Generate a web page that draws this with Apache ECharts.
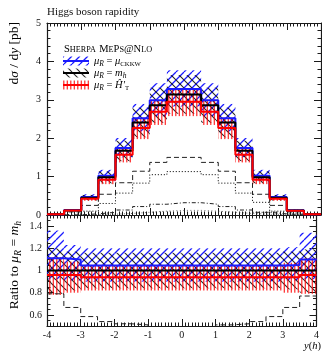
<!DOCTYPE html>
<html>
<head>
<meta charset="utf-8">
<script src="https://cdn.jsdelivr.net/npm/echarts@6/dist/echarts.min.js"></script>
<style>
  html, body { margin: 0; padding: 0; background: #fff; }
  #chart { width: 322px; height: 351px; }
</style>
</head>
<body>
<div id="chart"></div>
<script>
// Bin edges of the Higgs rapidity histogram
const binEdges = [-4, -3.5, -3, -2.5, -2, -1.5, -1, -0.5, 0, 0.5, 1, 1.5, 2, 2.5, 3, 3.5, 4];

// Central prediction for mu_R = m_h, dsigma/dy [pb]
const xsMh = [0.02, 0.12, 0.45, 0.98, 1.67, 2.41, 2.86, 3.14, 3.14, 2.86, 2.41, 1.67, 0.98, 0.45, 0.12, 0.02];

// Central predictions of the other scale choices relative to mu_R = m_h
const ratioCkkw = [1.11, 1.10, 1.045, 1.045, 1.045, 1.045, 1.045, 1.045, 1.045, 1.045, 1.045, 1.045, 1.045, 1.045, 1.05, 1.10];
const ratioHt   = [0.96, 0.96, 0.94, 0.94, 0.94, 0.94, 0.94, 0.94, 0.94, 0.94, 0.94, 0.94, 0.94, 0.94, 0.94, 0.96];

// Scale-variation envelopes relative to mu_R = m_h
const bandCkkwLo = [0.92, 0.91, 0.90, 0.90, 0.90, 0.90, 0.90, 0.90, 0.90, 0.90, 0.90, 0.90, 0.90, 0.90, 0.91, 0.92];
const bandCkkwHi = [1.36, 1.23, 1.20, 1.20, 1.20, 1.20, 1.20, 1.20, 1.20, 1.20, 1.20, 1.20, 1.20, 1.20, 1.21, 1.34];
const bandMhLo   = [0.79, 0.82, 0.84, 0.84, 0.84, 0.84, 0.84, 0.84, 0.84, 0.84, 0.84, 0.84, 0.84, 0.84, 0.83, 0.80];
const bandMhHi   = [1.20, 1.17, 1.16, 1.16, 1.16, 1.16, 1.16, 1.16, 1.16, 1.16, 1.16, 1.16, 1.16, 1.16, 1.17, 1.19];
const bandHtLo   = [0.78, 0.80, 0.82, 0.82, 0.82, 0.82, 0.82, 0.82, 0.82, 0.82, 0.82, 0.82, 0.82, 0.82, 0.80, 0.79];
const bandHtHi   = [1.12, 1.08, 1.05, 1.05, 1.05, 1.05, 1.05, 1.05, 1.05, 1.05, 1.05, 1.05, 1.05, 1.05, 1.07, 1.11];

// Contributions of the individual jet multiplicities [pb]
const xs0j = [0.015, 0.08, 0.25, 0.54, 0.84, 1.14, 1.37, 1.50, 1.50, 1.37, 1.14, 0.84, 0.54, 0.25, 0.08, 0.015];
const xs1j = [0.003, 0.03, 0.10, 0.30, 0.57, 0.83, 1.05, 1.13, 1.13, 1.05, 0.83, 0.57, 0.33, 0.10, 0.03, 0.003];
const xs2j = [0, 0.005, 0.03, 0.07, 0.13, 0.22, 0.28, 0.32, 0.32, 0.28, 0.22, 0.13, 0.07, 0.03, 0.005, 0];
const xs3j = [0, 0, 0.01, 0.02, 0.04, 0.07, 0.10, 0.12, 0.12, 0.10, 0.07, 0.04, 0.02, 0.01, 0, 0];
// Zero-jet contribution relative to the mu_R = m_h prediction
const ratio0j = [0.79, 0.667, 0.585, 0.54, 0.52, 0.51, 0.49, 0.48, 0.48, 0.49, 0.51, 0.52, 0.54, 0.585, 0.667, 0.77];

// Tick labels
const xTickLabels = [-4, -3, -2, -1, 0, 1, 2, 3, 4];
const yTickLabelsMain = [0, 1, 2, 3, 4, 5];
const yTickLabelsRatio = [0.6, 0.8, 1, 1.2, 1.4];

const SERIF = '"Liberation Serif", "DejaVu Serif", serif';
const BLUE = '#1a1aff';
const RED = '#ff0000';
const BLACK = '#000000';

// ---- hatch patterns -------------------------------------------------------
function hatch(color, kind, lw) {
  const c = document.createElement('canvas');
  const g = c.getContext('2d');
  if (kind === 'vert') {
    c.width = 7; c.height = 4;
    g.fillStyle = color;
    g.fillRect(0.2, 0, 1.2, 4);
    g.fillRect(3.7, 0, 1.2, 4);
    return { image: c, repeat: 'repeat' };
  }
  const s = 8;
  c.width = s; c.height = s;
  g.strokeStyle = color;
  g.lineWidth = lw;
  g.beginPath();
  for (let k = -1; k <= 1; k++) {
    if (kind === 'fwd') { g.moveTo(k * s, s); g.lineTo(k * s + s, 0); }
    else { g.moveTo(k * s, 0); g.lineTo(k * s + s, s); }
  }
  g.stroke();
  return { image: c, repeat: 'repeat' };
}
const patBlue = hatch(BLUE, 'fwd', 1.3);
const patBlack = hatch('rgba(0,0,0,0.85)', 'back', 1.1);
const patRed = hatch('rgba(255,0,0,0.85)', 'vert');

// ---- helpers building series data from the arrays ----------------------------
const nBins = binEdges.length - 1;
function stepData(vals) {
  const d = vals.map((v, i) => [binEdges[i], v]);
  d.push([binEdges[nBins], vals[nBins - 1]]);
  return d;
}
function bandData(lo, hi, scale) {
  return lo.map((l, i) => {
    const s = scale ? scale[i] : 1;
    return [binEdges[i], binEdges[i + 1], l * s, hi[i] * s];
  });
}
const mul = (a, b) => a.map((v, i) => v * b[i]);
const ones = xsMh.map((v) => v / v);

function bandSeries(data, pattern, xi, yi) {
  return {
    type: 'custom', xAxisIndex: xi, yAxisIndex: yi, clip: true, silent: true,
    encode: { x: [0, 1], y: [2, 3] },
    data: data,
    renderItem: function (params, api) {
      const a = api.coord([api.value(0), api.value(3)]);
      const b = api.coord([api.value(1), api.value(2)]);
      return {
        type: 'rect',
        shape: { x: a[0], y: a[1], width: b[0] - a[0], height: b[1] - a[1] },
        style: { fill: pattern, stroke: null }
      };
    }
  };
}
function stepSeries(vals, color, width, type, xi, yi, z) {
  return {
    type: 'line', step: 'end', xAxisIndex: xi, yAxisIndex: yi, z: z || 3,
    showSymbol: false, symbol: 'none', silent: true, clip: true,
    data: stepData(vals),
    lineStyle: { color: color, width: width, type: type || 'solid', cap: 'butt' }
  };
}

// ---- axes ------------------------------------------------------------------
const frame = { show: true, onZero: false, lineStyle: { color: '#1a1a1a', width: 1.2 } };
const tickStyle = { color: '#1a1a1a', width: 1 };
function xAx(grid, pos, labels) {
  return {
    type: 'value', gridIndex: grid, position: pos, min: -4, max: 4, interval: 1,
    axisLine: frame, splitLine: { show: false },
    axisTick: { show: true, inside: true, length: 7, lineStyle: tickStyle },
    minorTick: { show: true, splitNumber: 10, length: 3.5, lineStyle: tickStyle },
    axisLabel: {
      show: labels, margin: 4, fontFamily: SERIF, fontSize: 10, color: '#111',
      customValues: xTickLabels
    }
  };
}
function yMain(pos, labels) {
  return {
    type: 'value', gridIndex: 0, position: pos, min: 0, max: 5, interval: 1,
    axisLine: frame, splitLine: { show: false },
    axisTick: { show: true, inside: true, length: 7, lineStyle: tickStyle },
    minorTick: { show: true, splitNumber: 5, length: 3.5, lineStyle: tickStyle },
    axisLabel: { show: labels, margin: 6, fontFamily: SERIF, fontSize: 10, color: '#111', customValues: yTickLabelsMain }
  };
}
function yRatioMinor(pos) {
  return {
    type: 'value', gridIndex: 1, position: pos, min: 0.5, max: 1.5, interval: 0.05,
    axisLine: frame, splitLine: { show: false },
    axisTick: { show: true, inside: true, length: 3.5, lineStyle: tickStyle },
    axisLabel: { show: false }
  };
}
function yRatioMajor(pos, labels) {
  return {
    type: 'value', gridIndex: 1, position: pos, min: 0.5, max: 1.5, interval: 0.1,
    axisLine: { show: false, onZero: false }, splitLine: { show: false },
    axisTick: { show: true, inside: true, length: 7, customValues: yTickLabelsRatio, lineStyle: tickStyle },
    axisLabel: { show: labels, margin: 5, fontFamily: SERIF, fontSize: 10, color: '#111', customValues: yTickLabelsRatio }
  };
}

// ---- text helpers ----------------------------------------------------------
function mkRich(fs) {
  const base = { fontFamily: SERIF, color: '#111', lineHeight: Math.round(fs * 1.35) };
  return {
    n: Object.assign({}, base, { fontSize: fs, verticalAlign: 'middle' }),
    i: Object.assign({}, base, { fontStyle: 'italic', fontSize: fs, verticalAlign: 'middle' }),
    sub: Object.assign({}, base, { fontStyle: 'italic', fontSize: fs * 0.72, verticalAlign: 'bottom' }),
    subn: Object.assign({}, base, { fontSize: fs * 0.64, verticalAlign: 'bottom' }),
    sc: Object.assign({}, base, { fontSize: fs, verticalAlign: 'bottom' }),
    scs: Object.assign({}, base, { fontSize: fs * 0.78, verticalAlign: 'bottom', padding: [0, 0, 1, 0] })
  };
}
const richLegend = mkRich(10.5);
const richAxis = mkRich(13.5);

function legendRow(y, pattern, color, textStr) {
  return [
    { type: 'rect', shape: { x: 63, y: y - 4.5, width: 26, height: 9 }, style: { fill: pattern }, silent: true },
    { type: 'line', shape: { x1: 63, y1: y, x2: 89, y2: y }, style: { stroke: color, lineWidth: 2 }, silent: true },
    { type: 'text', x: 94, y: y, style: { text: textStr, rich: richLegend, verticalAlign: 'middle', align: 'left' }, silent: true }
  ];
}

const graphics = [
  { type: 'text', x: 47, y: 12, style: { text: 'Higgs boson rapidity', fontFamily: SERIF, fontSize: 11, fill: '#111', verticalAlign: 'middle' } },
  { type: 'text', x: 64, y: 48, style: { text: '{sc|S}{scs|HERPA} {sc|M}{scs|E}{sc|P}{scs|S}{sc|@N}{scs|LO}', rich: richLegend, verticalAlign: 'middle' } },
  ...legendRow(61, patBlue, BLUE, '{i|μ}{sub|R}{n| = }{i|μ}{subn|CKKW}'),
  ...legendRow(73, patBlack, BLACK, '{i|μ}{sub|R}{n| = }{i|m}{sub|h}'),
  ...legendRow(85, patRed, RED, '{i|μ}{sub|R}{n| = }{i|Ĥ′}{subn|T}'),
  { type: 'text', x: 14, y: 22, rotation: Math.PI / 2,
    style: { text: '{n|d}{i|σ}{n| / d}{i|y} {n|[pb]}', rich: richAxis, align: 'right', verticalAlign: 'middle' } },
  { type: 'text', x: 14, y: 221, rotation: Math.PI / 2,
    style: { text: '{n|Ratio to }{i|μ}{sub|R}{n| = }{i|m}{sub|h}', rich: richAxis, align: 'right', verticalAlign: 'middle' } },
  { type: 'text', x: 321, y: 346,
    style: { text: '{i|y}{n|(}{i|h}{n|)}', rich: richLegend, align: 'right', verticalAlign: 'middle' } }
];

// ---- chart -----------------------------------------------------------------
const chart = echarts.init(document.getElementById('chart'), null, { renderer: 'canvas' });
chart.setOption({
  animation: false,
  backgroundColor: '#fff',
  grid: [
    { left: 47, top: 23, width: 274, height: 192 },
    { left: 47, top: 215, width: 274, height: 111 }
  ],
  xAxis: [xAx(0, 'bottom', false), xAx(0, 'top', false), xAx(1, 'bottom', true), xAx(1, 'top', false)],
  yAxis: [yMain('left', true), yMain('right', false),
          yRatioMinor('left'), yRatioMajor('left', true), yRatioMinor('right'), yRatioMajor('right', false)],
  graphic: graphics,
  series: [
    // main panel: envelopes
    bandSeries(bandData(bandCkkwLo, bandCkkwHi, xsMh), patBlue, 0, 0),
    bandSeries(bandData(bandMhLo, bandMhHi, xsMh), patBlack, 0, 0),
    bandSeries(bandData(bandHtLo, bandHtHi, xsMh), patRed, 0, 0),
    // main panel: jet-multiplicity contributions
    stepSeries(xs0j, '#222', 1, [5, 3], 0, 0),
    stepSeries(xs1j, '#222', 1, [1.2, 1.8], 0, 0),
    stepSeries(xs2j, '#222', 1, [4, 2, 1, 2], 0, 0),
    stepSeries(xs3j, '#444', 0.8, [1, 2.5], 0, 0),
    // main panel: central predictions
    stepSeries(mul(xsMh, ratioCkkw), BLUE, 2, 'solid', 0, 0, 5),
    stepSeries(xsMh, BLACK, 2, 'solid', 0, 0, 5),
    stepSeries(mul(xsMh, ratioHt), RED, 2, 'solid', 0, 0, 5),
    // ratio panel
    bandSeries(bandData(bandCkkwLo, bandCkkwHi), patBlue, 2, 2),
    bandSeries(bandData(bandMhLo, bandMhHi), patBlack, 2, 2),
    bandSeries(bandData(bandHtLo, bandHtHi), patRed, 2, 2),
    stepSeries(ratio0j, '#222', 1, [5, 3], 2, 2),
    stepSeries(ratioCkkw, BLUE, 2, 'solid', 2, 2, 5),
    stepSeries(ones, BLACK, 2, 'solid', 2, 2, 5),
    stepSeries(ratioHt, RED, 2, 'solid', 2, 2, 5)
  ]
});
</script>
</body>
</html>
